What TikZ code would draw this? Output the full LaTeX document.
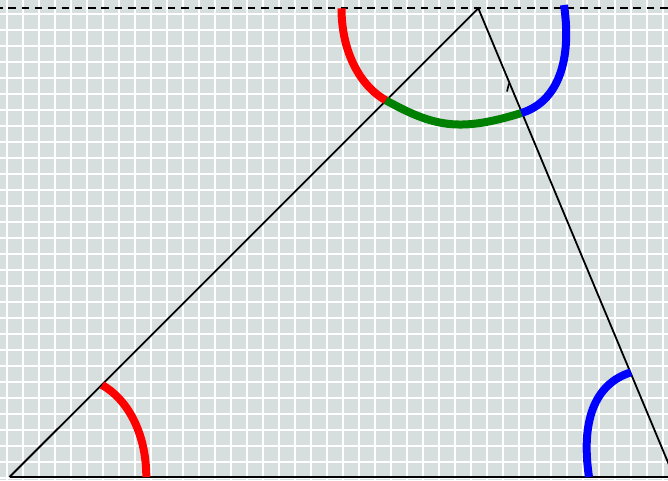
\documentclass[tikz,border=0pt]{standalone}
\usetikzlibrary{calc}
\definecolor{bgcol}{RGB}{214,222,222}
\definecolor{arcred}{RGB}{255,0,0}
\definecolor{arcblue}{RGB}{0,0,255}
\definecolor{arcgreen}{RGB}{0,128,0}
\tikzset{
  gridl/.style={white, line width=1.7pt},
  side/.style={black, line width=1.8pt},
  parline/.style={black, line width=2.2pt, dash pattern=on 7.5pt off 5.8pt, dash phase=5pt},
  anglearc/.style={line width=8pt, line cap=butt},
}
\begin{document}
\begin{tikzpicture}[x=1pt,y=-1pt]
\useasboundingbox (0,0) rectangle (668,480);
\clip (0,0) rectangle (668,480);
\fill[bgcol] (0,0) rectangle (668,480);
% grid
\foreach \i in {0,...,41} \draw[gridl] (7.3+16*\i,0) -- (7.3+16*\i,480);
\foreach \j in {0,...,29} \draw[gridl] (0,14+16*\j) -- (668,14+16*\j);
% vertices
\coordinate (A) at (9.5,477);
\coordinate (B) at (674.1,477);
\coordinate (C) at (478.3,8.3);
\coordinate (L) at (0,8.3);
\coordinate (R) at (668,8.3);
% parallel line through apex
\draw[parline] (L) -- (R);
% triangle sides
\draw[side] (A) -- (B);
\draw[side] (A) -- (C) -- (B);
% small mark
\coordinate (m1) at (509,83.5);
\coordinate (m2) at (507,91.5);
\draw[black, line width=1.6pt] (m1) -- (m2);
% arcs at the base
\draw[anglearc, arcred] (146.3,477) .. controls (146.3,432) and (126.5,398.5) .. (102,385);
\draw[anglearc, arcblue] (589,477) .. controls (580.8,422) and (594,383.8) .. (631,372.3);
% arcs at the apex
\coordinate (r0) at (341.5,8.3);
\coordinate (r3) at (385.8,100.3);
\coordinate (b0) at (564,5);
\coordinate (b3) at (521.4,113);
\draw[anglearc, arcred] (r0) .. controls (341.5,53.3) and (361.3,86.8) .. (r3);
\draw[anglearc, arcgreen] (r3) .. controls (434,126.9) and (459.3,132.3) .. (b3);
\draw[anglearc, arcblue] (b0) .. controls (572,60) and (558.4,101.5) .. (b3);
\end{tikzpicture}
\end{document}
